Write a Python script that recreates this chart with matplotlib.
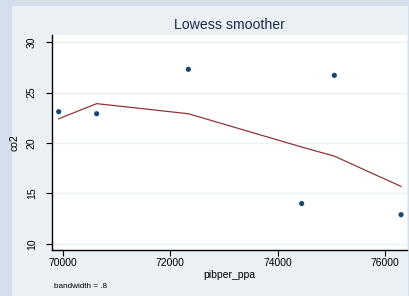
import matplotlib
matplotlib.use("Agg")
import matplotlib.pyplot as plt
from matplotlib.patches import Rectangle

plt.rcParams["font.family"] = ["Liberation Sans", "DejaVu Sans"]

# Data
pib = [69920, 70627, 72335, 74447, 75055, 76298]
co2 = [23.1, 22.9, 27.3, 14.0, 26.7, 12.9]
lowess_x = [69920, 70627, 72335, 74447, 75055, 76298]
lowess_y = [22.4, 23.9, 22.9, 19.6, 18.7, 15.7]
xticks = [70000, 72000, 74000, 76000]
yticks = [10, 15, 20, 25, 30]

fig = plt.figure(figsize=(4.10, 2.96), dpi=100)
fig.patch.set_facecolor("#d5dfec")
fig.patches.append(Rectangle((12 / 410, 0), 396 / 410, 290 / 296,
                             transform=fig.transFigure, facecolor="#eaf0f3",
                             edgecolor="none", zorder=-1))

ax = fig.add_axes([52 / 410, 46 / 296, 355 / 410, 215 / 296])
ax.set_zorder(2)
ax.set_facecolor("white")

ax.plot(lowess_x, lowess_y, color="#90353b", linewidth=0.9, zorder=3)
ax.scatter(pib, co2, s=14, color="#1a476f", edgecolors="none", zorder=4)

ax.set_xlim(69795, 76409)
ax.set_ylim(9.4, 30.7)
ax.set_xticks(xticks)
ax.set_yticks(yticks)
ax.set_xticklabels([str(v) for v in xticks])
ax.set_yticklabels([str(v) for v in yticks], rotation=90, va="center")

ax.yaxis.grid(True, color="#eaf2f3", linewidth=1.0)
ax.xaxis.grid(False)
ax.set_axisbelow(True)

for s in ["top", "right"]:
    ax.spines[s].set_visible(False)
for s in ["left", "bottom"]:
    ax.spines[s].set_color("black")
    ax.spines[s].set_linewidth(1.0)

ax.tick_params(axis="both", direction="out", length=4, width=0.8,
               labelsize=7.5, colors="black", pad=2)
ax.tick_params(axis="y", pad=7)

ax.set_xlabel("pibper_ppa", fontsize=7.5, labelpad=1)
ax.set_ylabel("co2", fontsize=7.5, labelpad=5)

ax.set_title("Lowess smoother", fontsize=10.2, color="#1e2a4a", pad=4)

fig.text(54 / 410, 1 - 286 / 296, "bandwidth = .8", fontsize=5.9,
         va="center", ha="left", color="black")

plt.savefig("out.png", dpi=100, facecolor=fig.get_facecolor())
